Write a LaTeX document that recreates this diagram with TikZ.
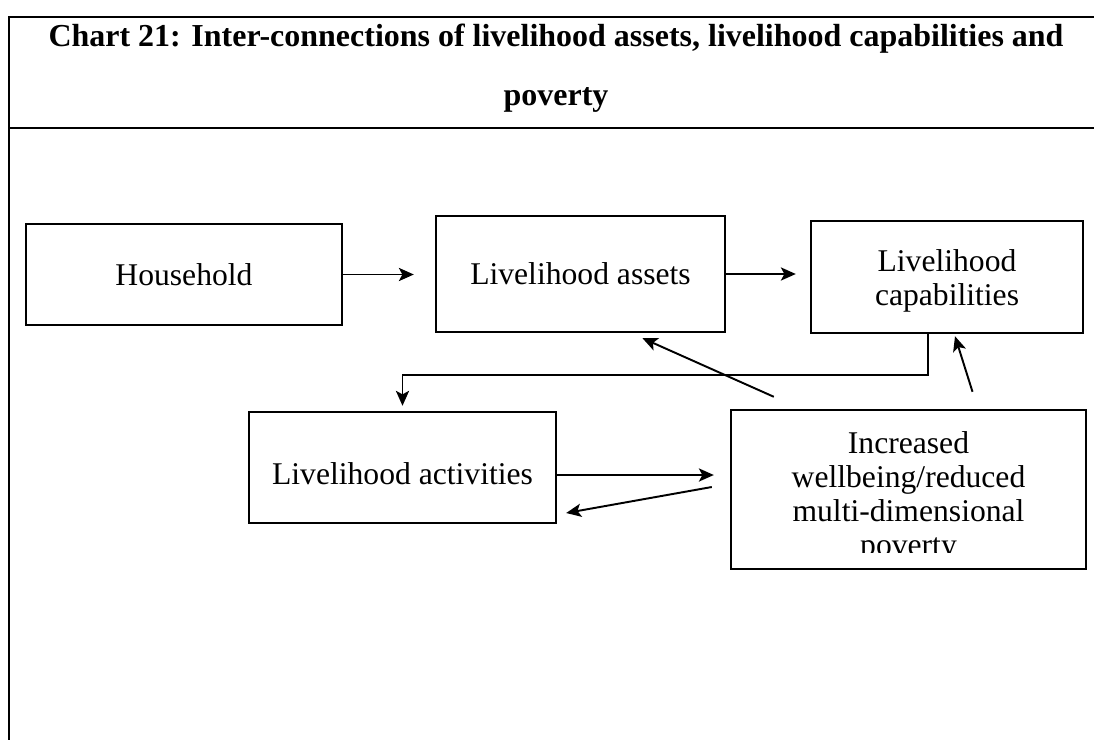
\documentclass[tikz,border=0pt]{standalone}
\usepackage{fontspec}
\setmainfont{Liberation Serif}
\usetikzlibrary{arrows.meta}
\tikzset{
    Words/.style = {align=center,inner sep=0pt,
         font=\fontsize{18}{19.3}\selectfont},
    Box/.style = {Words,draw,line width=1.4pt},
    Link/.style = {line width=1.1pt,-{Stealth[length=8.5pt,width=7.5pt,inset=2pt]}},
    Frame/.style = {line width=1.4pt},
    Title/.style = {anchor=base,inner sep=0pt,
         font=\bfseries\fontsize{18.2}{20}\selectfont}
}

\begin{document}
\begin{tikzpicture}[x=0.02cm,y=-0.02cm]
        \useasboundingbox (0,0) rectangle (1094,740);
        % table frame and heading
        \draw[Frame] (1094,17) -- (9,17) -- (9,740);
        \draw[Frame] (9,128) -- (1094,128);
        \node[Title] (T1) at (556,47) {Chart 21: Inter-connections of livelihood assets, livelihood capabilities and};
        \node[Title] (T2) at (556,106) {poverty};
        % boxes
        \node[Box,minimum width=6.32cm,minimum height=2.02cm] (H) at (184,274.5) {Household};
        \node[Box,minimum width=5.78cm,minimum height=2.32cm] (A) at (580.5,274) {Livelihood assets};
        \node[Box,minimum width=5.44cm,minimum height=2.24cm,text height=36pt] (C) at (947,277) {Livelihood\\capabilities};
        \node[Box,minimum width=6.14cm,minimum height=2.22cm,text height=19pt] (Act) at (402.5,467.5) {Livelihood activities};
        \node[Box,minimum width=7.1cm,minimum height=3.18cm] (W) at (908.5,489.5) {};
        \begin{scope}
            \clip ([shift={(0,-18)}]W.south west) rectangle (W.north east);
            \node[Words,anchor=north] (Wtext) at ([shift={(0,22.5)}]W.north)
                {Increased\\wellbeing/reduced\\multi-dimensional\\poverty};
        \end{scope}
        % links
        \draw[Link,shorten >=0.42cm] (H.east) -- (H.east -| A.west);
        \draw[Link,shorten >=0.28cm] (A.east) -- (A.east -| C.west);
        \draw[Link,shorten >=0.1cm] ([shift={(-19,0)}]C.south) -- ++(0,41) -| (Act.north);
        \draw[Link] ([shift={(44,-12)}]W.north west) -- ([shift={(62,5)}]A.south);
        \draw[Link] ([shift={(64,-17)}]W.north) -- ([shift={(8,2)}]C.south);
        \draw[Link] ([shift={(0,7.5)}]Act.east) -- ([shift={(-16,-14.5)}]W.west);
        \draw[Link] ([shift={(-18,-2.5)}]W.west) -- ([shift={(9,45.5)}]Act.east);
\end{tikzpicture}
\end{document}
